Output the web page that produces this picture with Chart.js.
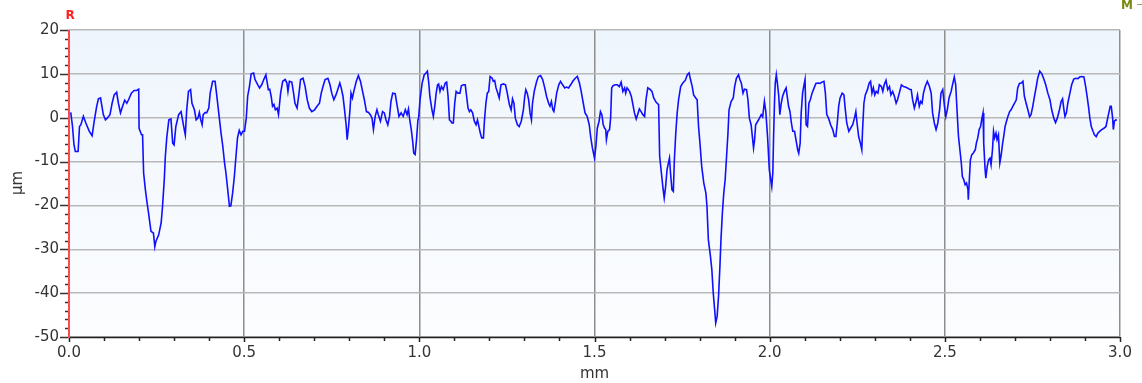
<!DOCTYPE html>
<html>
<head>
<meta charset="utf-8">
<title>Profile R</title>
<script src="https://cdn.jsdelivr.net/npm/chart.js@4.4.1/dist/chart.umd.min.js"></script>
<style>
  html,body{margin:0;padding:0;background:#fff;overflow:hidden;}
  #wrap{width:1142px;height:383px;}
</style>
</head>
<body>
<div id="wrap"><canvas id="profile" width="1142" height="383"></canvas></div>
<script>
/* ── DATA ── */
// position along the trace (mm)
const profileX = [
  0.005,0.010,0.014,0.018,0.026,0.030,0.034,0.041,0.048,0.058,0.066,0.072,0.079,0.084,0.090,0.094,0.098,0.104,0.109,0.117,
  0.123,0.129,0.136,0.141,0.147,0.153,0.159,0.165,0.170,0.178,0.186,0.193,0.199,0.200,0.207,0.210,0.213,0.218,0.223,0.227,
  0.234,0.241,0.245,0.248,0.256,0.263,0.267,0.272,0.275,0.279,0.285,0.291,0.296,0.300,0.305,0.313,0.320,0.324,0.329,0.332,
  0.336,0.341,0.347,0.351,0.358,0.363,0.368,0.372,0.376,0.380,0.383,0.389,0.393,0.399,0.403,0.410,0.417,0.421,0.427,0.434,
  0.439,0.444,0.448,0.453,0.458,0.462,0.467,0.472,0.477,0.481,0.486,0.491,0.496,0.501,0.506,0.510,0.515,0.520,0.527,0.531,
  0.539,0.544,0.550,0.556,0.562,0.566,0.569,0.573,0.577,0.581,0.585,0.589,0.594,0.598,0.604,0.610,0.617,0.622,0.625,0.629,
  0.636,0.641,0.645,0.651,0.656,0.661,0.668,0.674,0.680,0.686,0.693,0.701,0.708,0.715,0.720,0.725,0.731,0.739,0.745,0.750,
  0.756,0.762,0.767,0.773,0.777,0.782,0.786,0.791,0.794,0.798,0.802,0.805,0.809,0.813,0.820,0.826,0.832,0.838,0.843,0.849,
  0.855,0.860,0.865,0.869,0.874,0.879,0.883,0.889,0.895,0.900,0.905,0.910,0.915,0.919,0.924,0.931,0.937,0.942,0.948,0.954,
  0.960,0.965,0.969,0.972,0.977,0.981,0.984,0.988,0.992,0.996,0.998,1.002,1.008,1.014,1.019,1.023,1.027,1.030,1.036,1.040,
  1.044,1.048,1.052,1.055,1.059,1.063,1.068,1.074,1.078,1.082,1.086,1.090,1.093,1.097,1.101,1.105,1.110,1.116,1.120,1.126,
  1.131,1.135,1.139,1.143,1.147,1.152,1.157,1.162,1.166,1.169,1.174,1.178,1.183,1.186,1.190,1.194,1.198,1.202,1.208,1.211,
  1.215,1.219,1.224,1.228,1.233,1.240,1.246,1.251,1.257,1.262,1.266,1.270,1.274,1.280,1.285,1.291,1.297,1.301,1.304,1.308,
  1.312,1.316,1.320,1.323,1.328,1.335,1.340,1.346,1.352,1.358,1.363,1.369,1.373,1.377,1.381,1.384,1.388,1.392,1.398,1.403,
  1.409,1.415,1.420,1.426,1.432,1.438,1.445,1.451,1.457,1.462,1.468,1.473,1.479,1.485,1.489,1.494,1.500,1.504,1.508,1.513,
  1.517,1.521,1.525,1.529,1.532,1.534,1.538,1.543,1.546,1.549,1.553,1.559,1.565,1.571,1.576,1.581,1.586,1.589,1.593,1.600,
  1.605,1.609,1.614,1.619,1.623,1.628,1.633,1.638,1.643,1.647,1.652,1.658,1.664,1.669,1.676,1.683,1.686,1.690,1.695,1.699,
  1.703,1.707,1.711,1.714,1.717,1.721,1.725,1.728,1.732,1.736,1.740,1.746,1.752,1.759,1.765,1.770,1.774,1.779,1.783,1.789,
  1.793,1.797,1.801,1.806,1.812,1.818,1.821,1.825,1.831,1.835,1.839,1.843,1.846,1.850,1.854,1.858,1.861,1.865,1.869,1.873,
  1.877,1.881,1.884,1.890,1.896,1.900,1.905,1.911,1.915,1.919,1.924,1.928,1.934,1.938,1.942,1.947,1.951,1.954,1.957,1.960,
  1.966,1.971,1.976,1.980,1.985,1.989,1.994,1.999,2.003,2.006,2.009,2.011,2.014,2.016,2.019,2.022,2.026,2.029,2.033,2.037,
  2.042,2.047,2.050,2.054,2.058,2.062,2.066,2.071,2.075,2.080,2.083,2.087,2.090,2.094,2.098,2.101,2.104,2.108,2.112,2.116,
  2.121,2.127,2.132,2.138,2.144,2.149,2.155,2.159,2.163,2.168,2.174,2.180,2.185,2.189,2.193,2.197,2.201,2.207,2.212,2.216,
  2.220,2.226,2.231,2.237,2.242,2.246,2.250,2.254,2.259,2.263,2.265,2.269,2.273,2.279,2.284,2.288,2.292,2.296,2.300,2.304,
  2.309,2.313,2.319,2.323,2.327,2.332,2.337,2.342,2.346,2.351,2.356,2.361,2.365,2.370,2.376,2.382,2.387,2.393,2.399,2.404,
  2.408,2.413,2.418,2.422,2.427,2.431,2.435,2.439,2.444,2.450,2.456,2.461,2.465,2.470,2.475,2.480,2.485,2.489,2.494,2.499,
  2.503,2.507,2.512,2.518,2.523,2.527,2.531,2.535,2.539,2.543,2.547,2.550,2.554,2.558,2.562,2.566,2.567,2.570,2.573,2.577,
  2.581,2.587,2.590,2.594,2.598,2.602,2.606,2.609,2.611,2.615,2.617,2.621,2.625,2.629,2.632,2.636,2.639,2.642,2.646,2.649,
  2.653,2.657,2.661,2.665,2.668,2.672,2.676,2.680,2.685,2.689,2.694,2.699,2.704,2.708,2.713,2.718,2.723,2.727,2.732,2.737,
  2.742,2.746,2.751,2.756,2.761,2.765,2.771,2.777,2.783,2.788,2.794,2.800,2.805,2.811,2.816,2.821,2.826,2.832,2.836,2.840,
  2.843,2.847,2.851,2.857,2.862,2.868,2.874,2.880,2.885,2.891,2.897,2.902,2.906,2.910,2.914,2.918,2.923,2.927,2.932,2.937,
  2.942,2.948,2.954,2.960,2.963,2.967,2.972,2.975,2.979,2.981,2.984,2.988,2.991
];
// height of the profile (µm)
const profileY = [
  1.2,-2,-6,-7.7,-7.7,-2,-1.6,0.3,-1.2,-3.1,-4.1,-0.8,2.6,4.3,4.5,2.6,0.7,-0.5,-0.1,0.7,
  3.3,5.2,5.8,3.3,1.1,2.6,4.0,3.3,4.1,5.6,6.2,6.2,6.5,-2.4,-3.9,-3.9,-12.6,-16.4,-19.5,-21.7,
  -25.9,-26.3,-29.4,-28.2,-26.7,-24,-20.2,-14.1,-8.8,-4.6,-0.5,-0.3,-5.8,-6.2,-2,0.7,1.4,-0.5,-2.7,-3.9,
  1.8,6,6.4,3.3,1.8,-0.5,-0.1,1.2,-0.5,-1.6,0.7,1.2,1.1,2.2,5.6,8.3,8.3,5.6,1.4,-3.5,
  -6.5,-10.3,-12.6,-16.4,-20.2,-20.1,-17.2,-13.4,-8.4,-4.6,-2.9,-3.9,-3.1,-3.1,-0.1,4.9,7.1,10,10.2,8.7,
  7.5,6.8,7.5,8.7,9.8,7.9,6.4,6.5,4.9,2.6,3,1.8,2.2,0.7,5.6,8.3,8.7,7.9,6,8.3,
  8.1,5.6,3.3,2.2,5.2,8.7,9,7.1,4.1,2.2,1.4,1.8,2.6,3.3,5.6,7.1,8.7,9,7.5,5.6,
  4.1,5.2,6.4,7.9,6.8,4.9,2.2,-1.6,-5,-2,1.8,5.6,4.5,6,8.3,9.6,8.3,6,4.1,1.4,
  1.2,0.7,-0.1,-2.7,0.3,1.8,0.7,-0.8,1.4,1.1,-0.5,-1.6,0.3,3.7,5.6,5.5,2.6,0.3,1.1,0.3,
  1.8,0.7,2,-0.1,-2.7,-5.4,-8.1,-8.4,-5,-0.5,-0.1,4.1,7.9,9.8,10.2,10.6,7.9,4.9,1.8,0.3,
  2.6,5.6,7.5,7.7,6,7.1,6.4,7.9,8.1,4.9,-0.5,-0.8,-1.2,-1.2,3.3,6,5.6,5.6,7.3,7.5,
  7.5,4.9,2.2,1.4,1.8,1.1,-0.8,-1.6,-0.5,-1.6,-3.5,-4.6,-4.6,-0.5,3.3,5.6,6,9.4,9,8.3,
  8.5,6.8,5.6,4.5,7.5,7.7,7.5,5.6,3,1.8,4.3,3.3,-0.1,-1.6,-2,-0.8,1.8,4.9,6.4,5.6,
  4.1,1.1,-0.5,3.3,6,8.3,9.4,9.6,8.7,6.8,4.9,3.3,2.6,3.7,1.8,1.4,3.3,5.6,7.5,8.3,
  7.5,6.8,7,6.8,7.5,8.3,9,9.4,7.9,6,3.3,1.1,0.3,-1.6,-4.3,-6.9,-9.2,-6.5,-2.4,-0.8,
  1.4,0.7,-1.6,-2.4,-2.7,-5,-3.1,-2.7,-0.1,6.8,7.3,7.5,7.5,7.1,8.1,6,6.8,5.6,6.8,6,
  4.9,3.3,1.1,-0.3,0.7,2,1.4,0.7,0.3,4.1,6.8,6.5,6,4.5,3.5,3,-8.8,-11.9,-15.7,-18.3,
  -15.7,-11.9,-10.3,-9.2,-12.6,-16.4,-16.8,-9.6,-3.5,1.1,4.1,7.1,7.9,8.5,9.8,10.2,8.7,7.1,5.2,4.5,
  4.1,-2,-5.8,-11.1,-14.9,-17.2,-20.2,-27.8,-31.6,-34.7,-40,-43.8,-46.8,-45.3,-40.8,-33.9,-27.8,-21.7,-17.2,-14.1,
  -8.8,-3.5,1.8,3.7,4.5,7.1,9,9.8,8.7,7.9,5.6,6.5,6.4,4.1,-0.1,-1.6,-4.6,-6.9,-5,-1.6,
  -0.8,-0.1,0.7,0.2,3.7,1.4,-4.3,-11.9,-14.1,-15.7,-12.6,-5,4.1,7.9,9.8,7.9,4.9,0.7,3.3,4.9,
  6,6.8,4.9,2.6,1.4,-1.2,-3.1,-3.1,-5,-7.3,-8.1,-5.8,1.1,5.6,7.5,8.7,-1.6,-2,3.3,4.1,
  5.6,6.8,7.8,7.9,7.8,8.1,8.3,5.6,0.7,-0.1,-1.6,-2.7,-4.3,-4.3,-1.2,2.6,4.5,5.6,5.2,1.8,
  -1.2,-3.1,-2.4,-1.6,-0.1,1.4,-1.6,-4.3,-5.8,-7.3,-3.1,3.3,5.2,6.4,7.9,8.3,5.6,6.8,5.2,6,
  5.6,7.5,7.1,6,7.5,8.5,6.4,7.1,5.2,6,4.9,3.3,4.1,5.6,7.5,7.1,7,6.8,6.5,6.4,
  4.1,2.2,3.7,5.2,2.6,3.7,3.3,5.6,7.1,8.3,7.1,5.6,1.1,-1.2,-2.7,-1.2,1.8,5.6,6.4,2.6,
  0.3,1.8,4.5,6,7.9,9.3,7.5,1.4,-4.3,-7.3,-10.3,-13.4,-14.1,-15.3,-14.9,-16.4,-18.7,-14.1,-9.6,-8.4,
  -8.1,-7.3,-5.8,-4.6,-2.7,-2,-0.1,1.1,-5.8,-11.9,-13.8,-11.1,-9.6,-9.2,-10.7,-7.3,-3.1,-4.6,-3.5,-5,
  -3.9,-10.3,-8.4,-5.8,-4.3,-2,-0.8,0.3,1.4,1.8,2.6,3.3,4.1,6.8,7.8,7.9,8.3,4.9,3.3,1.8,
  0.2,0.7,2.6,4.9,7.1,9,10.6,10,8.7,7.5,5.6,4.1,1.8,-0.1,-1.1,-0.1,1.4,3.7,4.3,1.8,
  0.3,1.1,3.3,5.6,7.5,8.8,9,8.9,9.3,9.4,9.3,7.1,4.9,2.6,-0.1,-2,-3.1,-3.9,-4.3,-3.5,
  -3.1,-2.7,-2.4,-2,-0.8,0.7,2.6,2.6,-0.1,-2.7,-0.8,-0.5,-0.6
];

const X_MIN = 0, X_MAX = 3, X_STEP = 0.5, X_MINOR = 0.1;
const Y_MIN = -50, Y_MAX = 20, Y_STEP = 10, Y_MINOR = 2;
const xTitle = 'mm', yTitle = 'µm', profileName = 'R', sideMark = 'M';

const points = profileX.map((x,i)=>({x, y: profileY[i]}));

/* ── PLOT BACKGROUND + AXES ── */
const profileDecor = {
  id: 'profileDecor',
  beforeDraw(chart) {
    const {ctx, chartArea:a} = chart;
    const g = ctx.createLinearGradient(0, a.top, 0, a.bottom);
    g.addColorStop(0, '#eef5fc');
    g.addColorStop(1, '#fcfdff');
    ctx.save();
    ctx.fillStyle = g;
    ctx.fillRect(a.left, a.top, a.right - a.left, a.bottom - a.top);
    ctx.restore();
  },
  afterDraw(chart) {
    const {ctx, chartArea:a, scales:{x, y}} = chart;
    ctx.save();
    // y ticks (major every 10, minor every 2)
    ctx.strokeStyle = '#333';
    ctx.lineWidth = 1.5;
    for (let v = Y_MIN; v <= Y_MAX + 1e-9; v += Y_MINOR) {
      const py = Math.round(y.getPixelForValue(v)) + 0.5;
      const len = (Math.round(v) % Y_STEP === 0) ? 9 : 4;
      ctx.beginPath(); ctx.moveTo(a.left - len, py); ctx.lineTo(a.left, py); ctx.stroke();
    }
    // bottom axis line and ticks
    ctx.strokeStyle = '#222';
    ctx.beginPath(); ctx.moveTo(a.left, a.bottom + 0.5); ctx.lineTo(a.right, a.bottom + 0.5); ctx.stroke();
    for (let i = 0; i <= Math.round((X_MAX - X_MIN) / X_MINOR); i++) {
      const v = X_MIN + i * X_MINOR;
      const px = Math.round(x.getPixelForValue(v)) + 0.5;
      const len = (i % 5 === 0) ? 5 : 4;
      ctx.beginPath(); ctx.moveTo(px, a.bottom); ctx.lineTo(px, a.bottom + len); ctx.stroke();
    }
    // red left axis
    ctx.strokeStyle = '#ff4a4a';
    ctx.lineWidth = 2;
    ctx.beginPath(); ctx.moveTo(a.left, a.top); ctx.lineTo(a.left, a.bottom + 1); ctx.stroke();

    // labels
    ctx.fillStyle = '#333';
    ctx.font = '15px "DejaVu Sans"';
    ctx.textAlign = 'center';
    ctx.textBaseline = 'middle';
    ctx.fillText(xTitle, (a.left + a.right) / 2, 374);
    ctx.save();
    ctx.translate(18, 183);
    ctx.rotate(-Math.PI / 2);
    ctx.fillText(yTitle, 0, 0);
    ctx.restore();

    ctx.fillStyle = '#ff2020';
    ctx.font = 'bold 12px "DejaVu Sans"';
    ctx.fillText(profileName, a.left + 1, 16);

    ctx.fillStyle = '#7a8a10';
    ctx.font = 'bold 12px "DejaVu Sans"';
    ctx.textAlign = 'left';
    ctx.textBaseline = 'alphabetic';
    ctx.fillText(sideMark, 1121, 9);
    ctx.fillStyle = '#9aa060';
    ctx.fillRect(1137, 4, 5, 1);
    ctx.restore();
  }
};

/* ── CHART ── */
new Chart(document.getElementById('profile').getContext('2d'), {
  type: 'line',
  data: {
    datasets: [{
      label: profileName,
      data: points,
      borderColor: '#1010ff',
      borderWidth: 1.6,
      pointRadius: 0,
      tension: 0,
      fill: false
    }]
  },
  options: {
    responsive: false,
    animation: false,
    devicePixelRatio: 1,
    layout: { padding: { top: 30, right: 22, left: 0, bottom: 0 } },
    plugins: { legend: { display: false }, tooltip: { enabled: false } },
    scales: {
      x: {
        type: 'linear', min: X_MIN, max: X_MAX,
        afterFit: s => { s.height = 46; },
        border: { display: false },
        grid: { color: '#8e8e8e', lineWidth: 1.5, drawTicks: false },
        ticks: {
          stepSize: X_STEP, autoSkip: false, maxRotation: 0, padding: 7,
          color: '#333', font: { family: 'DejaVu Sans', size: 15 },
          callback: v => v.toFixed(1)
        }
      },
      y: {
        min: Y_MIN, max: Y_MAX,
        afterFit: s => { s.width = 69; },
        border: { display: false },
        grid: { color: '#b8b8b8', lineWidth: 1.5, drawTicks: false },
        ticks: {
          stepSize: Y_STEP, padding: 10,
          color: '#333', font: { family: 'DejaVu Sans', size: 15 }
        }
      }
    }
  },
  plugins: [profileDecor]
});
</script>
</body>
</html>
